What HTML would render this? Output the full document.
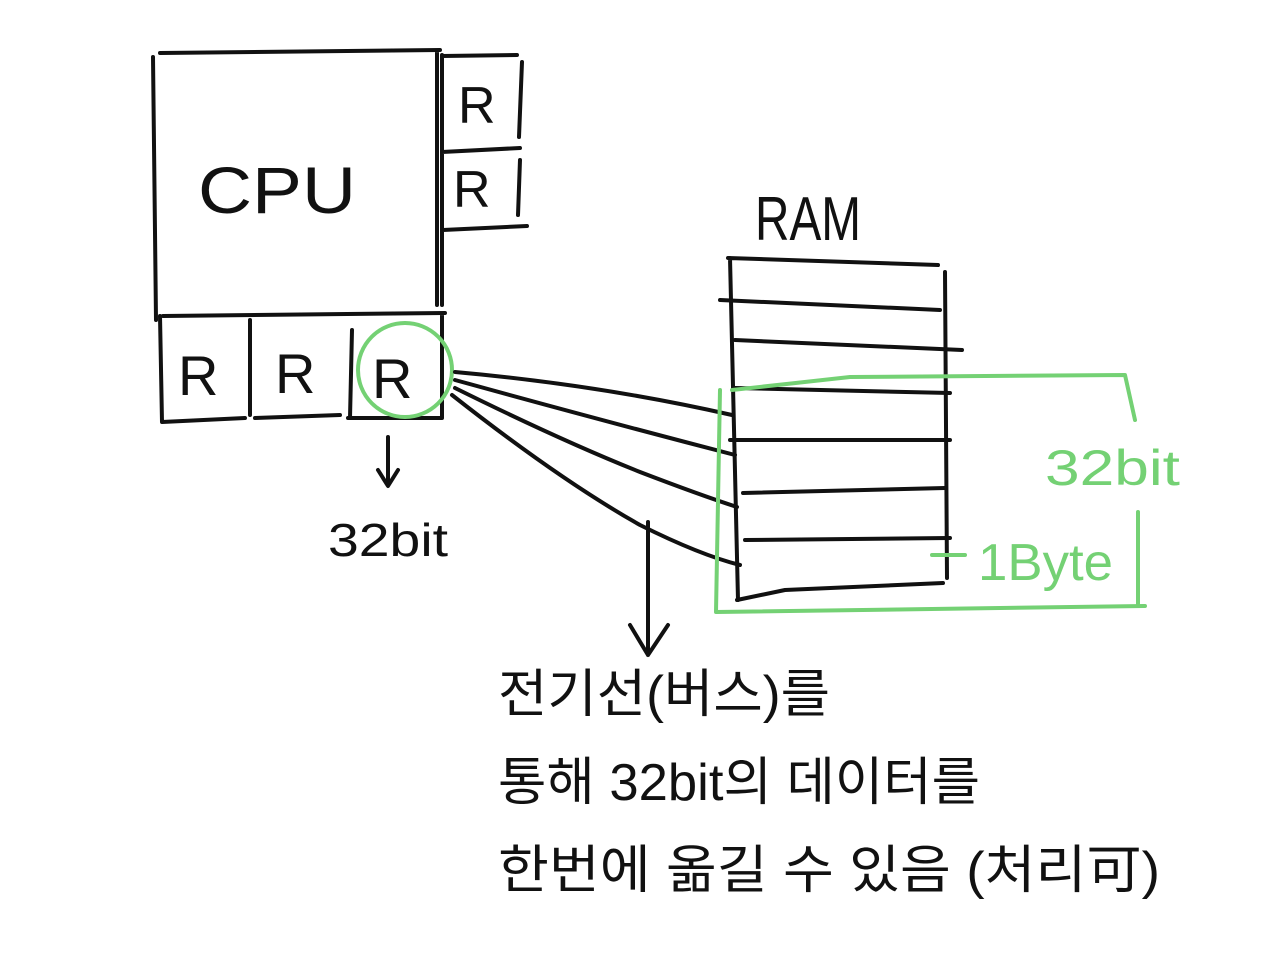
<!DOCTYPE html>
<html><head><meta charset="utf-8"><style>
html,body{margin:0;padding:0;background:#fff;width:1280px;height:977px;overflow:hidden}
svg{display:block}
.k{stroke:#111;stroke-width:4;fill:none;stroke-linecap:round;stroke-linejoin:round}
.g{stroke:#74d174;stroke-width:4;fill:none;stroke-linecap:round;stroke-linejoin:round}
text{font-family:"Liberation Sans","Noto Sans CJK KR",sans-serif;}
</style></head><body>
<svg width="1280" height="977" viewBox="0 0 1280 977">
<!-- CPU box -->
<path class="k" d="M160 53 L440 50 M153 57 L156 320 M437 52 L437 305"/>
<path class="k" d="M163 316 L445 313 M160 316 L162 422 L245 418 M255 418 L340 415 M348 418 L442 418 M250 320 L250 415 M352 330 L350 418 M442 315 L442 418"/>
<!-- right registers -->
<path class="k" d="M442 56 L517 55 M442 55 L442 305 M522 62 L519 137 M442 152 L520 148 M520 160 L518 215 M443 230 L527 226"/>
<text x="198" y="213" font-size="66" fill="#111" textLength="158" lengthAdjust="spacingAndGlyphs">CPU</text>
<text x="458" y="123" font-size="52" fill="#111">R</text>
<text x="453" y="207" font-size="52" fill="#111">R</text>
<text x="178" y="395" font-size="56" fill="#111">R</text>
<text x="275" y="393" font-size="56" fill="#111">R</text>
<text x="372" y="398" font-size="56" fill="#111">R</text>
<circle class="g" cx="405" cy="370" r="47"/>
<!-- arrow down 32bit -->
<path class="k" d="M388 437 L388 485 M378 470 L388 486 L398 470"/>
<text x="328" y="556" font-size="46" fill="#111" textLength="120" lengthAdjust="spacingAndGlyphs">32bit</text>
<!-- bus lines -->
<path class="k" d="M455 372 Q600 385 732 415"/>
<path class="k" d="M455 380 Q600 420 735 455"/>
<path class="k" d="M455 388 Q560 440 640 472 Q700 495 737 507"/>
<path class="k" d="M452 395 Q560 480 640 525 Q700 555 740 565"/>
<path class="k" d="M648 522 L648 655 M630 625 L648 655 L668 625"/>
<!-- RAM -->
<text x="755" y="240" font-size="62" fill="#111" textLength="106" lengthAdjust="spacingAndGlyphs">RAM</text>
<path class="k" d="M728 258 L938 265 M730 258 L738 600 M945 272 L947 578"/>
<path class="k" d="M720 300 L940 310 M735 340 L962 350 M735 388 L950 393 M730 440 L950 440 M743 493 L945 488 M745 540 L950 538 M737 600 L785 590 L943 583"/>
<!-- green bracket -->
<path class="g" d="M732 390 L850 377 L1125 375 L1135 420 M720 390 L716 612 L1145 606 M1138 512 L1138 605 M932 555 L965 555"/>
<text x="1045" y="485" font-size="50" fill="#74d174" textLength="135" lengthAdjust="spacingAndGlyphs">32bit</text>
<text x="978" y="580" font-size="52" fill="#74d174" textLength="135" lengthAdjust="spacingAndGlyphs">1Byte</text>
<!-- Korean text -->
<text x="498" y="712" font-size="52" fill="#111" textLength="332" lengthAdjust="spacingAndGlyphs">전기선(버스)를</text>
<text x="498" y="800" font-size="52" fill="#111" textLength="482" lengthAdjust="spacingAndGlyphs">통해 32bit의 데이터를</text>
<text x="498" y="888" font-size="52" fill="#111" textLength="662" lengthAdjust="spacingAndGlyphs">한번에 옮길 수 있음 (처리可)</text>
</svg>
</body></html>
